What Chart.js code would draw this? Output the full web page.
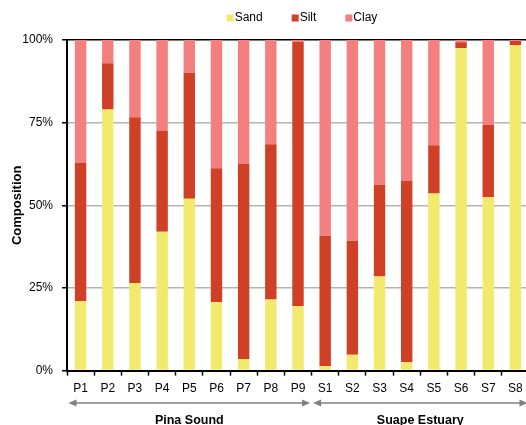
<!DOCTYPE html>
<html>
<head>
<meta charset="utf-8">
<script src="https://cdn.jsdelivr.net/npm/chart.js@4/dist/chart.umd.min.js"></script>
<style>
  html, body { margin: 0; padding: 0; background: #fff; overflow: hidden; }
  #wrap { width: 526px; height: 425px; overflow: hidden; position: relative; }
  canvas { display: block; }
</style>
</head>
<body>
<div id="wrap"><canvas id="c" width="531" height="425"></canvas></div>
<script>
const categories = ['P1','P2','P3','P4','P5','P6','P7','P8','P9','S1','S2','S3','S4','S5','S6','S7','S8'];
const sand = [21.0, 79.0, 26.5, 42.0, 52.0, 20.7, 3.5, 21.5, 19.5, 1.3, 4.8, 28.5, 2.5, 53.6, 97.5, 52.5, 98.5];
const silt = [41.8, 14.0, 50.1, 30.5, 38.1, 40.5, 59.0, 47.0, 79.9, 39.5, 34.5, 27.7, 54.9, 14.6, 1.8, 21.8, 1.2];
const clay = [37.2, 7.0, 23.4, 27.5, 9.9, 38.8, 37.5, 31.5, 0.6, 59.2, 60.7, 43.8, 42.6, 31.8, 0.7, 25.7, 0.3];
const seriesNames = ['Sand', 'Silt', 'Clay'];
const seriesColors = ['#F2EA6C', '#CF4027', '#F47F7F'];
const groupNames = ['Pina Sound', 'Suape Estuary'];
const groupSizes = [9, 8];
const yTicks = [0, 25, 50, 75, 100];

const FONT = '"Liberation Sans", Arial, Helvetica, sans-serif';

const legendPlugin = {
  id: 'customLegend',
  afterDraw(chart) {
    const ctx = chart.ctx;
    ctx.save();
    ctx.font = '12px ' + FONT;
    ctx.textBaseline = 'middle';
    const box = 7, gapText = 1, gapItem = 29;
    let total = 0;
    const widths = seriesNames.map(n => ctx.measureText(n).width);
    widths.forEach((w, i) => { total += box + gapText + w + (i < widths.length - 1 ? gapItem : 0); });
    let x = 302 - total / 2;
    const y = 18;
    seriesNames.forEach((n, i) => {
      ctx.fillStyle = seriesColors[i];
      ctx.fillRect(x, y - box / 2, box, box);
      ctx.fillStyle = '#000';
      ctx.textAlign = 'left';
      ctx.fillText(n, x + box + gapText, y);
      x += box + gapText + widths[i] + gapItem;
    });
    ctx.restore();
  }
};

const groupPlugin = {
  id: 'groups',
  afterDraw(chart) {
    const xs = chart.scales.x;
    const ctx = chart.ctx;
    const half = (xs.getPixelForValue(1) - xs.getPixelForValue(0)) / 2;
    let start = 0;
    ctx.save();
    groupSizes.forEach((size, gi) => {
      const left = xs.getPixelForValue(start) - half;
      const right = xs.getPixelForValue(start + size - 1) + half;
      const y = 403;
      const a = left + 1.5, b = right - 1.5;
      ctx.strokeStyle = '#808080';
      ctx.fillStyle = '#808080';
      ctx.lineWidth = 1.5;
      ctx.beginPath();
      ctx.moveTo(a + 6, y);
      ctx.lineTo(b - 6, y);
      ctx.stroke();
      ctx.beginPath();
      ctx.moveTo(a, y); ctx.lineTo(a + 8, y - 3.5); ctx.lineTo(a + 8, y + 3.5); ctx.closePath(); ctx.fill();
      ctx.beginPath();
      ctx.moveTo(b, y); ctx.lineTo(b - 8, y - 3.5); ctx.lineTo(b - 8, y + 3.5); ctx.closePath(); ctx.fill();
      ctx.fillStyle = '#000';
      ctx.font = 'bold 12.5px ' + FONT;
      ctx.textAlign = 'center';
      ctx.textBaseline = 'middle';
      ctx.fillText(groupNames[gi], (left + right) / 2, 421);
      start += size;
    });
    ctx.restore();
  }
};

new Chart(document.getElementById('c'), {
  type: 'bar',
  data: {
    labels: categories,
    datasets: [
      { label: seriesNames[0], data: sand, backgroundColor: seriesColors[0] },
      { label: seriesNames[1], data: silt, backgroundColor: seriesColors[1] },
      { label: seriesNames[2], data: clay, backgroundColor: seriesColors[2] }
    ]
  },
  options: {
    responsive: false,
    animation: false,
    layout: { padding: { top: 40, right: 2, bottom: 23, left: 0 } },
    datasets: { bar: { categoryPercentage: 1.0, barPercentage: 0.42, borderWidth: 0 } },
    plugins: { legend: { display: false }, tooltip: { enabled: false } },
    scales: {
      x: {
        stacked: true,
        grid: { display: true, drawOnChartArea: false, drawTicks: true, tickLength: 5, tickColor: '#000', tickWidth: 1.5, offset: true },
        border: { display: true, color: '#000', width: 2 },
        ticks: { color: '#000', font: { family: FONT, size: 12 }, padding: 6, maxRotation: 0, autoSkip: false }
      },
      y: {
        stacked: true,
        min: 0, max: 100,
        afterBuildTicks(scale) { scale.ticks = yTicks.map(v => ({ value: v })); },
        afterFit(scale) { scale.width = 67; },
        grid: {
          color: c => (c.tick && c.tick.value === 100) ? '#000' : '#B4B4B4',
          lineWidth: 1.5,
          tickLength: 5, tickColor: '#000', tickWidth: 1.5
        },
        border: { display: true, color: '#000', width: 2 },
        ticks: { color: '#000', font: { family: FONT, size: 12 }, padding: 9, callback: v => v + '%' },
        title: { display: true, text: 'Composition', color: '#000', font: { family: FONT, size: 13, weight: 'bold' }, padding: { top: 10, bottom: 0 } }
      }
    }
  },
  plugins: [legendPlugin, groupPlugin]
});
</script>
</body>
</html>
